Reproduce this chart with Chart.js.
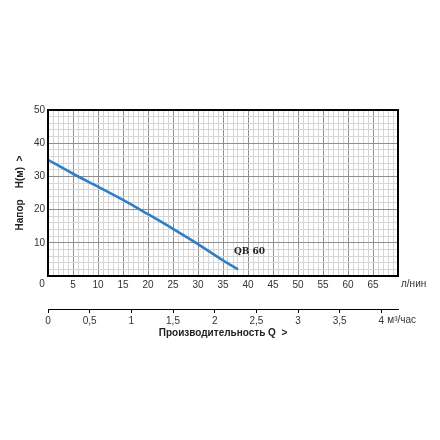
<!DOCTYPE html>
<html>
<head>
<meta charset="utf-8">
<script src="https://cdn.jsdelivr.net/npm/chart.js@4.4.1/dist/chart.umd.min.js"></script>
<style>
  html, body { margin: 0; padding: 0; background: #fff; }
  #wrap { width: 440px; height: 440px; }
</style>
</head>
<body>
<div id="wrap"><canvas id="chartQH"></canvas></div>
<script>
// pump curve QB 60 : head (m) vs flow (l/min)
const flowLpm = [0, 5, 10, 15, 20, 25, 30, 35, 38];
const headM = [35, 30.8, 26.9, 22.9, 18.6, 14.2, 9.6, 4.7, 2.0];
const curveName = 'QB 60';
const curveLabelAt = [37.2, 7.2];   // flow, head where the name sits

const flowMax = 70;                  // l/min
const headMax = 50;                  // m
const m3hMax = flowMax * 60 / 1000;  // 4.2 m³/h

const FONT = 'Liberation Sans';
const txt = '#333';

const extras = {
  id: 'extras',
  afterDraw(chart) {
    const { ctx, chartArea: a, scales } = chart;
    ctx.save();
    // frame
    ctx.strokeStyle = '#000';
    ctx.lineWidth = 2;
    ctx.strokeRect(a.left, a.top, a.right - a.left, a.bottom - a.top);

    ctx.fillStyle = txt;
    ctx.textBaseline = 'middle';
    ctx.font = '10px "' + FONT + '"';
    // x zero label sits left of the corner
    ctx.textAlign = 'center';
    ctx.fillText('0', a.left - 6, a.bottom + 8);
    ctx.textAlign = 'left';
    ctx.fillText('л/нин', a.right + 3, a.bottom + 8);
    const x2 = scales.x2;
    ctx.fillText('м³/час', x2.getPixelForValue(4) + 6, x2.top + 11);

    // curve name
    ctx.font = 'bold 9px "DejaVu Serif"';
    ctx.fillStyle = '#222';
    ctx.fillText(curveName, scales.x.getPixelForValue(curveLabelAt[0]),
                 scales.y.getPixelForValue(curveLabelAt[1]));
    ctx.restore();
  }
};

new Chart(document.getElementById('chartQH'), {
  type: 'line',
  data: {
    labels: flowLpm,
    datasets: [{
      label: curveName,
      data: flowLpm.map((q, i) => ({ x: q, y: headM[i] })),
      borderColor: '#2f7fc8',
      borderWidth: 2.6,
      pointRadius: 0,
      tension: 0.2,
      cubicInterpolationMode: 'monotone',
      fill: false
    }]
  },
  plugins: [extras],
  options: {
    responsive: true,
    maintainAspectRatio: false,
    animation: false,
    layout: { padding: { top: 110, right: 42, bottom: 101, left: 0 } },
    plugins: { legend: { display: false }, tooltip: { enabled: false } },
    scales: {
      x: {
        type: 'linear', position: 'bottom', weight: 0,
        min: 0, max: flowMax,
        afterFit: s => { s.height = 33; },
        border: { display: false },
        grid: {
          drawTicks: false,
          color: c => (c.tick.value % 5 === 0 ? '#8f8f8f' : '#d6d6d6'),
          lineWidth: 1
        },
        ticks: {
          stepSize: 1, autoSkip: false, maxRotation: 0, padding: 3,
          color: txt, font: { family: FONT, size: 10 },
          callback: v => (v % 5 === 0 && v > 0 && v < flowMax ? v : '')
        }
      },
      x2: {
        type: 'linear', position: 'bottom', weight: 1,
        min: 0, max: m3hMax,
        afterFit: s => { s.height = 30; },
        border: { display: true, color: '#000', width: 1 },
        grid: { drawOnChartArea: false, drawTicks: true, tickLength: 4, color: '#000' },
        ticks: {
          stepSize: 0.5, includeBounds: false, maxRotation: 0, padding: 2,
          color: txt, font: { family: FONT, size: 10 },
          callback: v => String(v).replace('.', ',')
        },
        title: {
          display: true, text: 'Производительность Q  >', color: '#222',
          font: { family: FONT, size: 10, weight: 'bold' }, padding: { top: 0, bottom: 0 }
        }
      },
      y: {
        type: 'linear', position: 'left',
        min: 0, max: headMax,
        afterFit: s => { s.width = 48; },
        border: { display: false },
        grid: {
          drawTicks: false,
          color: c => (c.tick.value % 10 === 0 ? '#8f8f8f' : '#d6d6d6'),
          lineWidth: 1
        },
        ticks: {
          stepSize: 2, autoSkip: false, padding: 3,
          color: txt, font: { family: FONT, size: 10 },
          callback: v => (v % 10 === 0 && v > 0 ? v : '')
        },
        title: {
          display: true, text: 'Напор    H(м)  >', color: '#222',
          font: { family: FONT, size: 10, weight: 'bold' }, padding: { top: 14, bottom: 0 }
        }
      }
    }
  }
});
</script>
</body>
</html>
